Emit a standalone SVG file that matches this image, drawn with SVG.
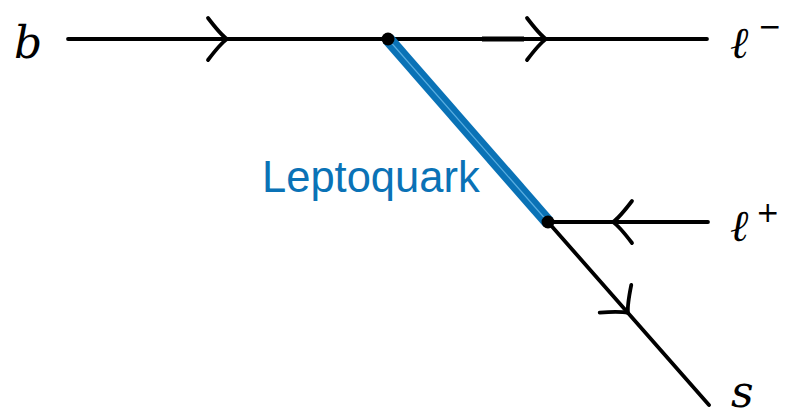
<svg xmlns="http://www.w3.org/2000/svg" width="791" height="419" viewBox="0 0 791 419">
<style>
.f{stroke:#000;stroke-width:3.8;fill:none;stroke-linecap:round}
.ar{stroke:#000;stroke-width:3.8;fill:none;stroke-linecap:round;stroke-linejoin:round}
.m{font-family:"DejaVu Serif","Liberation Serif",serif;font-style:italic;font-size:44px;fill:#000}
.sup{font-family:"DejaVu Sans","Liberation Sans",sans-serif;font-size:28px;fill:#000}
.lq{font-family:"Liberation Sans",Arial,sans-serif;font-size:43.5px;fill:#0a72b6}
</style>
<defs>
<path id="chev" class="ar" d="M-19,-21 Q-6,-4 0,0 Q-6,4 -19,21"/>
</defs>
<g id="connectors">
<line class="f" x1="68" y1="39" x2="707" y2="39"/>
<line x1="482" y1="39" x2="524" y2="39" stroke="#000" stroke-width="5"/>
<line class="f" x1="548" y1="222" x2="708" y2="222"/>
<line class="f" x1="548" y1="222" x2="709" y2="405"/>
<line x1="388" y1="39" x2="548" y2="222" stroke="#0a72b6" stroke-width="13"/>
<line x1="388" y1="39" x2="548" y2="222" stroke="#5aaee0" stroke-width="1.2"/>
<use href="#chev" transform="translate(227,39)"/>
<use href="#chev" transform="translate(546,39)"/>
<use href="#chev" transform="translate(613,222) rotate(180)"/>
<use href="#chev" transform="translate(628,313) rotate(48.8)"/>
</g>
<g id="v1"><circle cx="388" cy="39" r="6.5" fill="#000"/></g>
<g id="v2"><circle cx="548" cy="222" r="6.5" fill="#000"/></g>
<g id="b"><text class="m" x="14" y="58">b</text></g>
<g id="lminus"><text class="m" x="730" y="58">ℓ</text><text class="sup" x="758" y="36">−</text></g>
<g id="lplus"><text class="m" x="730" y="241">ℓ</text><text class="sup" x="756" y="222">+</text></g>
<g id="s"><text class="m" x="731" y="407">s</text></g>
<g id="leptoquark"><text class="lq" x="262" y="192">Leptoquark</text></g>
</svg>
